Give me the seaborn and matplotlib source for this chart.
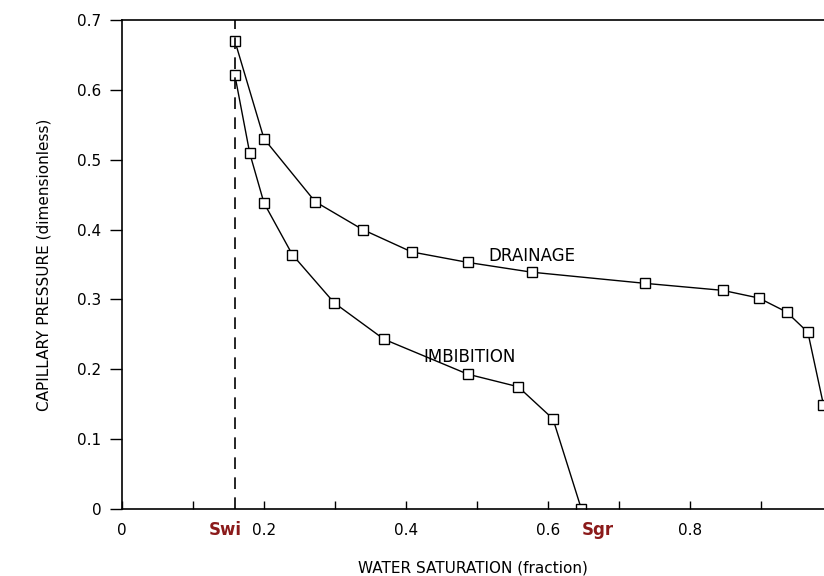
import matplotlib
matplotlib.use("Agg")
import matplotlib.pyplot as plt
import seaborn as sns
import pandas as pd
from matplotlib.ticker import MultipleLocator

# Data
drainage_sw = [0.159, 0.200, 0.272, 0.339, 0.408, 0.487, 0.577, 0.737, 0.846, 0.897, 0.936, 0.966, 0.988]
drainage_pc = [0.670, 0.530, 0.440, 0.400, 0.368, 0.353, 0.339, 0.323, 0.313, 0.302, 0.282, 0.253, 0.149]
imbibition_sw = [0.159, 0.180, 0.200, 0.240, 0.299, 0.369, 0.487, 0.558, 0.607, 0.647]
imbibition_pc = [0.621, 0.509, 0.438, 0.364, 0.295, 0.243, 0.193, 0.175, 0.129, 0.000]
swi = 0.159
xticks_major = [0, 0.2, 0.4, 0.6, 0.8]
xtick_labels = ["0", "0.2", "0.4", "0.6", "0.8"]
yticks = [0, 0.1, 0.2, 0.3, 0.4, 0.5, 0.6, 0.7]
ytick_labels = ["0", "0.1", "0.2", "0.3", "0.4", "0.5", "0.6", "0.7"]

df = pd.concat([
    pd.DataFrame({"Sw": drainage_sw, "Pc": drainage_pc, "curve": "DRAINAGE"}),
    pd.DataFrame({"Sw": imbibition_sw, "Pc": imbibition_pc, "curve": "IMBIBITION"}),
], ignore_index=True)

sns.set_theme(style="white")
plt.rcParams["font.family"] = ["DejaVu Sans"]

fig = plt.figure(figsize=(8.24, 5.76), dpi=100)
ax = fig.add_axes([122/824, 1 - 509/576, 1 - 122/824, (509 - 20)/576])

for name, sub in df.groupby("curve"):
    sns.lineplot(data=sub, x="Sw", y="Pc", ax=ax, sort=False, color="black",
                 linewidth=1.0, marker="s", markersize=6.5, markerfacecolor="white",
                 markeredgecolor="black", markeredgewidth=1.0, estimator=None)

ax.plot([swi, swi], [0, 0.7], color="black", linestyle=(0, (7, 5)), linewidth=1.2)

ax.set_xlim(0, (824 - 122) / 710)
ax.set_ylim(0, 0.7)

ax.set_xticks(xticks_major)
ax.set_xticklabels(xtick_labels)
ax.xaxis.set_minor_locator(MultipleLocator(0.1))
ax.set_yticks(yticks)
ax.set_yticklabels(ytick_labels)

ax.tick_params(axis="x", which="both", direction="in", length=6, width=1, colors="black",
               labelsize=11, pad=10, bottom=True)
ax.tick_params(axis="y", which="major", direction="out", length=9, width=1, colors="black",
               labelsize=11, pad=6, left=True)

for s in ["left", "bottom", "top"]:
    ax.spines[s].set_visible(True)
    ax.spines[s].set_color("black")
    ax.spines[s].set_linewidth(1.2)
ax.spines["right"].set_visible(False)

ax.set_xlabel("WATER SATURATION (fraction)", fontsize=11, color="black", labelpad=16)
ax.set_ylabel("CAPILLARY PRESSURE (dimensionless)", fontsize=11, color="black", labelpad=18)
if ax.get_legend() is not None:
    ax.get_legend().remove()

ax.text(0.577, 0.362, "DRAINAGE", fontsize=12, ha="center", va="center", color="black")
ax.text(0.489, 0.218, "IMBIBITION", fontsize=12, ha="center", va="center", color="black")

ax.text(0.145, -0.030, "Swi", fontsize=12, fontweight="bold", color="#8B1A1A",
        ha="center", va="center", clip_on=False)
ax.text(0.670, -0.030, "Sgr", fontsize=12, fontweight="bold", color="#8B1A1A",
        ha="center", va="center", clip_on=False)

fig.savefig("out.png", dpi=100, facecolor="white")
